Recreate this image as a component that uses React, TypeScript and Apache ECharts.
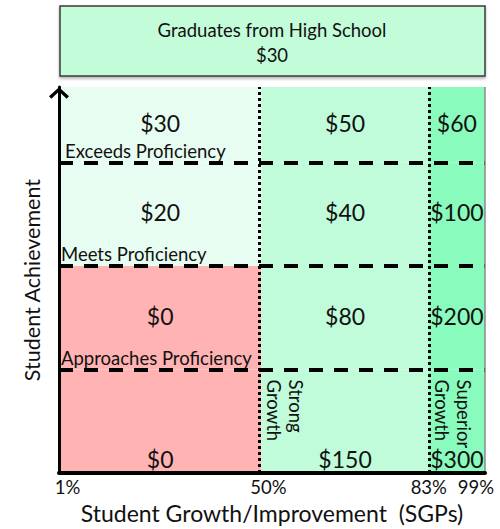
import React, { useEffect, useRef } from "react";
import * as echarts from "echarts";

// ---- data ----
const sgpTicks = ["1%", "50%", "83%", "99%"];
const growthLabels = ["Strong\nGrowth", "Superior\nGrowth"];
const tierLabels = ["Approaches Proficiency", "Meets Proficiency", "Exceeds Proficiency"];
// payouts by achievement band (bottom to top), per growth band (left to right)
const payoutBelow = [0, 150, 300];
const payoutApproaches = [0, 80, 200];
const payoutMeets = [20, 40, 100];
const payoutExceeds = [30, 50, 60];
const graduationLabel = "Graduates from High School";
const graduationPayout = 30;
const xAxisName = "Student Growth/Improvement  (SGPs)";
const yAxisName = "Student Achievement";

// ---- layout ----
const COL_EDGES = [0, 0.475, 0.868, 1];
const ROW_EDGES = [0, 1, 2, 3, 3.73];
const FONT = "Lato, 'Open Sans', sans-serif";
const COL_FILL = ["#e8fdf1", "#c0fcd9", "#88fbbd"];
const ZERO_FILL = "#ffb3b3";
const CHEVRON = "path://M0,0 L10,9 L7.6,11.4 L0,4.2 L-7.6,11.4 L-10,9 Z";

export default function App() {
  const ref = useRef<HTMLDivElement>(null);
  useEffect(() => {
    if (!ref.current) return;
    const chart = echarts.init(ref.current, null, { renderer: "svg" });
    const rows = [payoutBelow, payoutApproaches, payoutMeets, payoutExceeds];
    const data: number[][] = [];
    rows.forEach((row, r) => row.forEach((v, c) => data.push([c, r, v])));

    const tickIndex = (v: number) => COL_EDGES.findIndex((e) => Math.abs(e - v) < 1e-6);

    const renderItem = (params: any, api: any) => {
      const c = api.value(0);
      const r = api.value(1);
      const v = api.value(2);
      const p0 = api.coord([COL_EDGES[c], ROW_EDGES[r]]);
      const p1 = api.coord([COL_EDGES[c + 1], ROW_EDGES[r + 1]]);
      const x = p0[0];
      const y = p1[1];
      const w = p1[0] - p0[0];
      const h = p0[1] - p1[1];
      const children: any[] = [
        {
          type: "rect",
          shape: { x, y, width: w, height: h },
          style: { fill: v === 0 ? ZERO_FILL : COL_FILL[c], stroke: null },
        },
        {
          type: "text",
          x: x + w / 2,
          y: r === 0 ? y + h - 14 : y + h / 2 - 2,
          style: {
            text: "$" + v,
            align: "center",
            verticalAlign: "middle",
            fontSize: 23,
            fontFamily: FONT,
            fill: "#111",
          },
        },
      ];
      if (c === 0 && r >= 1) {
        children.push({
          type: "text",
          x: x + (r === 3 ? 6 : 2),
          y: y + h - 12,
          style: {
            text: tierLabels[r - 1],
            align: "left",
            verticalAlign: "middle",
            fontSize: 18.5,
            fontFamily: FONT,
            fill: "#111",
          },
        });
      }
      if (r === 0 && c >= 1) {
        children.push({
          type: "text",
          x: x + 2,
          y: y + 10,
          rotation: -Math.PI / 2,
          style: {
            text: growthLabels[c - 1],
            align: "left",
            verticalAlign: "bottom",
            fontSize: 18.5,
            lineHeight: 22,
            fontFamily: FONT,
            fill: "#111",
          },
        });
      }
      return { type: "group", children };
    };

    const dashed = { type: [14, 11], color: "#000", width: 4 };
    const dotted = { type: [3, 3], color: "#000", width: 3 };

    chart.setOption({
      animation: false,
      backgroundColor: "#fff",
      grid: { left: 59, right: 15, top: 87, bottom: 52, containLabel: false },
      xAxis: {
        type: "value",
        z: 10,
        min: 0,
        max: 1,
        name: xAxisName,
        nameLocation: "middle",
        nameGap: 21,
        nameTextStyle: { fontSize: 23, fontFamily: FONT, color: "#111" },
        axisLine: { show: true, lineStyle: { color: "#000", width: 4 } },
        axisTick: { show: false },
        splitLine: { show: false },
        axisLabel: {
          customValues: COL_EDGES,
          margin: 4,
          fontSize: 18.5,
          fontFamily: FONT,
          color: "#111",
          alignMinLabel: "center",
          alignMaxLabel: "center",
          formatter: (v: number) => {
            const i = tickIndex(v);
            return i < 0 ? "" : `{t${i}|${sgpTicks[i]}}`;
          },
          rich: {
            t0: { fontSize: 18.5, fontFamily: FONT, color: "#111", padding: [0, 0, 0, 17] },
            t1: { fontSize: 18.5, fontFamily: FONT, color: "#111", padding: [0, 0, 0, 14] },
            t2: { fontSize: 18.5, fontFamily: FONT, color: "#111" },
            t3: { fontSize: 18.5, fontFamily: FONT, color: "#111", padding: [0, 18, 0, 0] },
          },
        },
      },
      yAxis: {
        type: "value",
        z: 10,
        min: 0,
        max: ROW_EDGES[ROW_EDGES.length - 1],
        name: yAxisName,
        nameLocation: "middle",
        nameGap: 16,
        nameTextStyle: { fontSize: 21.5, fontFamily: FONT, color: "#111" },
        axisLine: {
          show: true,
          symbol: ["none", CHEVRON],
          symbolSize: [20, 17],
          symbolOffset: [0, -6],
          lineStyle: { color: "#000", width: 3 },
        },
        axisTick: { show: false },
        axisLabel: { show: false },
        splitLine: { show: false },
      },
      graphic: [
        {
          type: "rect",
          shape: { x: 60, y: 6, width: 425, height: 70 },
          style: {
            fill: "#c2fcd9",
            stroke: "#3a3a3a",
            lineWidth: 1.5,
            shadowColor: "rgba(0,0,0,0.3)",
            shadowBlur: 3,
            shadowOffsetY: 2,
          },
        },
        {
          type: "text",
          x: 272,
          y: 42,
          style: {
            text: `${graduationLabel}\n$${graduationPayout}`,
            align: "center",
            verticalAlign: "middle",
            fontSize: 18.5,
            lineHeight: 25,
            fontFamily: FONT,
            fill: "#111",
          },
        },
      ],
      series: [
        {
          type: "custom",
          renderItem,
          data,
          encode: { x: 0, y: 1 },
          markLine: {
            silent: true,
            symbol: "none",
            label: { show: false },
            data: [
              ...ROW_EDGES.slice(1, 4).map((e) => ({ yAxis: e, lineStyle: dashed })),
              ...COL_EDGES.slice(1, 3).map((e) => ({ xAxis: e, lineStyle: dotted })),
              { xAxis: 1, lineStyle: { type: "solid", color: "#8a8a8a", width: 1.5 } },
            ],
          },
        },
      ],
    });
    return () => chart.dispose();
  }, []);
  return (
    <div
      ref={ref}
      style={{ position: "absolute", left: 0, top: 0, width: 500, height: 529, background: "#fff" }}
    />
  );
}
